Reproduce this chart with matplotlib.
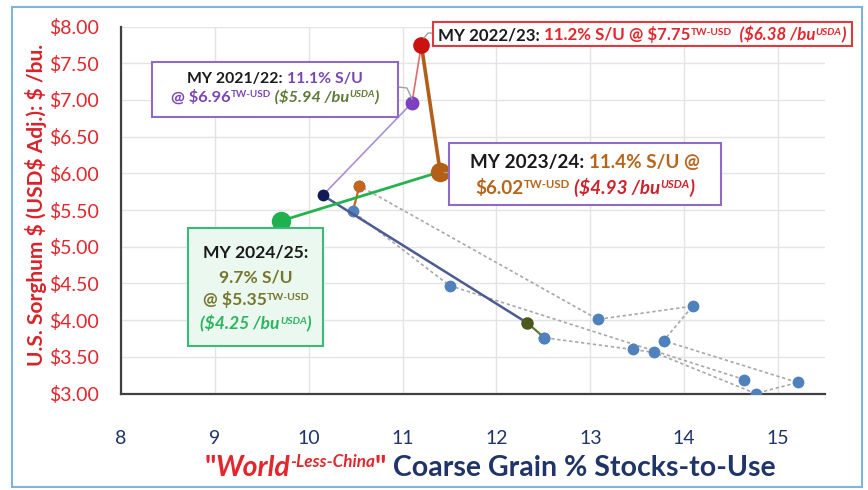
import numpy as np
import matplotlib
matplotlib.use("Agg")
import matplotlib.pyplot as plt
from matplotlib.transforms import IdentityTransform
from matplotlib.patches import Rectangle

plt.rcParams['font.family'] = ['Lato', 'DejaVu Sans']

# historical seasons (dotted chain), oldest first
hist_su = [14.64, 11.50, 10.47, 10.54, 13.08, 14.09, 13.78, 15.21, 14.76, 13.68, 13.45, 12.51]
hist_price = [3.19, 4.47, 5.48, 5.83, 4.01, 4.19, 3.72, 3.15, 3.00, 3.56, 3.60, 3.76]

# recent seasons, highlighted
recent_su = [12.51, 12.33, 10.15, 11.1, 11.2, 11.4, 9.7]
recent_price = [3.76, 3.96, 5.70, 6.96, 7.75, 6.02, 5.35]
seg_colors = ['#5f7a2a', '#4c5b92', '#a98fd3', '#e36a6a', '#b0601c', '#24b24e']
seg_widths = [1.6, 1.8, 1.2, 1.2, 2.6, 2.0]
pt_colors = ['#4f81bd', '#4b5a1c', '#101c55', '#7e3fc0', '#cc1111', '#b35f16', '#1fb04f']
pt_sizes = [8.5, 9, 8.5, 10, 12, 14, 14]

xticks = [8, 9, 10, 11, 12, 13, 14, 15]
yticks = [3.0, 3.5, 4.0, 4.5, 5.0, 5.5, 6.0, 6.5, 7.0, 7.5, 8.0]

W, H = 868, 490
fig = plt.figure(figsize=(W / 100, H / 100), dpi=100)
ax = fig.add_axes([121 / W, 1 - 393.5 / H, (825 - 121) / W, (393.5 - 26.5) / H])

ax.set_xlim(8, 15.5)
ax.set_ylim(3, 8)
ax.set_xticks(xticks)
ax.set_yticks(yticks)
ax.set_xticklabels([str(v) for v in xticks])
ax.set_yticklabels(['$%.2f' % v for v in yticks])
ax.grid(True, color='#e4e4e4', lw=1)
ax.set_axisbelow(True)
for s in ['top', 'right']:
    ax.spines[s].set_visible(False)
for s in ['left', 'bottom']:
    ax.spines[s].set_color('#404040')
    ax.spines[s].set_linewidth(1.6)
ax.tick_params(length=0)
ax.tick_params(axis='y', labelcolor='#e3262b', labelsize=14, pad=16)
ax.tick_params(axis='x', labelcolor='#1f3468', labelsize=14, pad=26)

# dotted history
ax.plot(hist_su, hist_price, color='#a8a8a8', lw=1.2, ls=(0, (2, 1.6)), zorder=2)
ax.plot(hist_su[2:4], hist_price[2:4], color='#c4661e', lw=1.6, zorder=3)
ax.plot(hist_su, hist_price, 'o', color='#4f81bd', ms=8.5, mec='none', zorder=4)
ax.plot(hist_su[3], hist_price[3], 'o', color='#c4661e', ms=8.5, mec='none', zorder=5)

# highlighted recent path
for i in range(len(recent_su) - 1):
    ax.plot(recent_su[i:i + 2], recent_price[i:i + 2], color=seg_colors[i],
            lw=seg_widths[i], zorder=6, solid_capstyle='round')
for xv, yv, c, s in zip(recent_su, recent_price, pt_colors, pt_sizes):
    ax.plot(xv, yv, 'o', color=c, ms=s, mec='none', zorder=7)

# connectors from points to their boxes (pixel coordinates)
conn = dict(color='#a0a0a0', lw=1, transform=IdentityTransform(), zorder=8)
fig.add_artist(plt.Line2D([424, 428, 433], [H - 38, H - 33, H - 33], **conn))
fig.add_artist(plt.Line2D([398, 407, 412], [H - 87, H - 88, H - 99], **conn))
fig.add_artist(plt.Line2D([444, 449], [H - 172, H - 172], **conn))


def box(x0, y0, x1, y1, ec, fc='white'):
    fig.add_artist(Rectangle((x0, H - y1), x1 - x0, y1 - y0, transform=IdentityTransform(),
                             fc=fc, ec=ec, lw=1.5, zorder=9))


def rich(x, y, pieces, size, align='center'):
    # one line of mixed-style text; y is the baseline, measured from the top
    r = fig.canvas.get_renderer()
    items = []
    cx = 0
    for s, c, it, sup in pieces:
        fs = size * 0.6 if sup else size
        t = fig.text(0, 0, s, color=c, fontsize=fs, fontweight='bold',
                     fontstyle='italic' if it else 'normal', transform=IdentityTransform(),
                     va='baseline', ha='left', parse_math=False, zorder=10)
        w = t.get_window_extent(r).width
        items.append((t, cx, size * 0.42 if sup else 0))
        cx += w
    x0 = x - cx / 2 if align == 'center' else x
    for t, off, dy in items:
        t.set_position((x0 + off, H - y + dy))


K = '#1a1a1a'
RED = '#e3262b'
PUR = '#7b45b8'
OLV = '#5e7a36'
BRN = '#b8651b'
GRN = '#2db45e'
KHA = '#77762f'

box(433, 22, 852, 46, '#e0393d')
rich(642, 40, [('MY 2022/23: ', K, False, False), ('11.2% S/U @ $7.75', RED, False, False),
               ('TW-USD', RED, False, True), ('  ($6.38 /bu', RED, True, False),
               ('USDA', RED, True, True), (')', RED, True, False)], 12.2)

box(152, 62, 398, 117, '#8e6bc4')
rich(275, 83, [('MY 2021/22: ', K, False, False), ('11.1% S/U', PUR, False, False)], 11.3)
rich(275, 102, [('@ $6.96', PUR, False, False), ('TW-USD', PUR, False, True),
                (' ($5.94 /bu', OLV, True, False), ('USDA', OLV, True, True),
                (')', OLV, True, False)], 11.8)

box(449, 143, 721, 205, '#8e6bc4')
rich(585, 168, [('MY 2023/24: ', K, False, False), ('11.4% S/U @', BRN, False, False)], 13.6)
rich(585, 194, [('$6.02', BRN, False, False), ('TW-USD', BRN, False, True),
                (' ($4.93 /bu', '#d0202a', True, False), ('USDA', '#d0202a', True, True),
                (')', '#d0202a', True, False)], 13.6)

box(188, 228, 323, 346, '#3cb878', fc='#eaf8ef')
rich(256, 257, [('MY 2024/25:', K, False, False)], 12.6)
rich(256, 282, [('9.7% S/U', KHA, False, False)], 12.6)
rich(256, 305, [('@ $5.35', KHA, False, False), ('TW-USD', KHA, False, True)], 12.6)
rich(256, 329, [('($4.25 /bu', GRN, True, False), ('USDA', GRN, True, True),
                (')', GRN, True, False)], 12.6)

# axis titles
fig.text(36, H - 205, 'U.S. Sorghum $ (USD$ Adj.): $ /bu.', rotation=90, color='#d8232a',
         fontsize=15, fontweight='bold', ha='center', va='center',
         transform=IdentityTransform(), parse_math=False)
rich(490, 476, [('"', RED, False, False), ('World', RED, True, False),
                ('-Less-China', RED, True, True), ('"', RED, False, False),
                (' Coarse Grain % Stocks-to-Use', '#1f3468', False, False)], 20.5)

# outer frame
fig.add_artist(Rectangle((12, 3), 850, H - 10, transform=IdentityTransform(),
                         fc='none', ec='#7fb2de', lw=1.5))

fig.savefig('out.png', dpi=100)
